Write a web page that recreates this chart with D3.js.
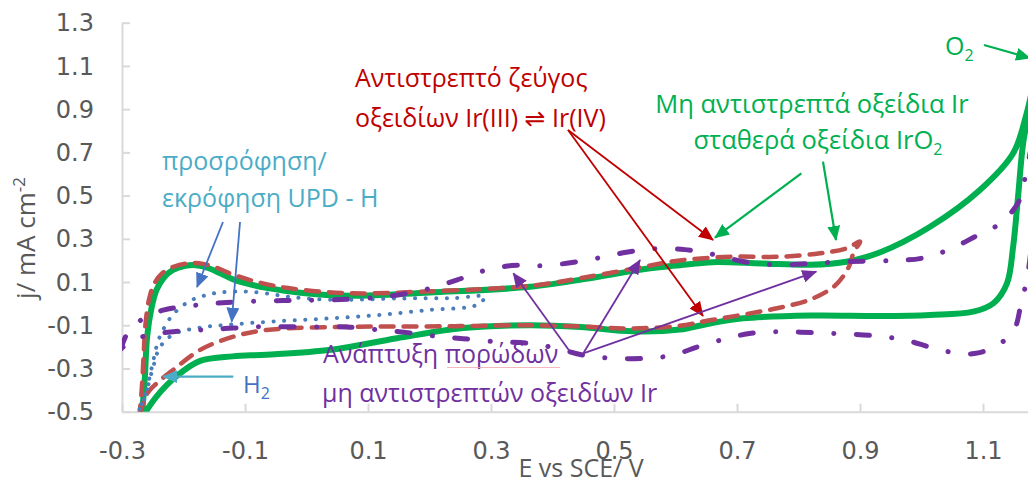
<!DOCTYPE html>
<html><head><meta charset="utf-8">
<script src="https://cdn.jsdelivr.net/npm/d3@7"></script>
<style>
html,body{margin:0;padding:0;background:#fff;}
svg{display:block;}
</style></head><body>
<svg id="c" width="1028" height="477"></svg>
<script>
// ---------- data ----------
const yTicks = [-0.5,-0.3,-0.1,0.1,0.3,0.5,0.7,0.9,1.1,1.3];
const xTicks = [-0.3,-0.1,0.1,0.3,0.5,0.7,0.9,1.1];

// IrO2 stable oxide film (green, solid)
const greenLoop = [
 [-0.268,-0.53],[-0.263,-0.35],[-0.259,-0.15],[-0.252,-0.02],[-0.244,0.063],[-0.232,0.12],
 [-0.217,0.156],[-0.197,0.175],[-0.18,0.178],[-0.16,0.165],[-0.14,0.14],[-0.119,0.112],
 [-0.09,0.088],[-0.065,0.073],[-0.01,0.05],[0.07,0.036],[0.2,0.052],[0.363,0.078],
 [0.47,0.122],[0.55,0.16],[0.607,0.178],[0.66,0.192],[0.74,0.186],[0.82,0.18],
 [0.878,0.194],[0.933,0.238],[1.014,0.356],[1.095,0.526],[1.149,0.696],[1.171,0.881],
 [1.19,1.12],[1.178,0.92],[1.166,0.757],[1.157,0.495],[1.149,0.264],[1.139,0.094],
 [1.117,0.002],[1.084,-0.037],[1.014,-0.052],[0.933,-0.057],[0.82,-0.055],[0.71,-0.068],
 [0.65,-0.095],[0.607,-0.12],[0.53,-0.128],[0.445,-0.108],[0.363,-0.1],[0.255,-0.113],
 [0.147,-0.16],[0.04,-0.213],[-0.065,-0.236],[-0.12,-0.244],[-0.173,-0.265],
 [-0.211,-0.335],[-0.244,-0.43],[-0.268,-0.53]
];
// reversible Ir(III)/Ir(IV) (red, dashed)
const redLoop = [
 [-0.272,-0.53],[-0.268,-0.4],[-0.265,-0.25],[-0.262,-0.1],[-0.256,0.02],[-0.248,0.09],
 [-0.235,0.14],[-0.215,0.172],[-0.195,0.186],[-0.175,0.187],[-0.15,0.17],[-0.12,0.135],
 [-0.08,0.1],[-0.03,0.072],[0.07,0.048],[0.2,0.057],[0.363,0.082],[0.47,0.13],
 [0.55,0.172],[0.607,0.2],[0.69,0.217],[0.77,0.217],[0.835,0.233],[0.878,0.256],
 [0.9,0.287],[0.89,0.24],[0.882,0.171],[0.86,0.085],[0.82,0.02],[0.767,-0.02],
 [0.712,-0.05],[0.658,-0.076],[0.604,-0.103],[0.52,-0.115],[0.44,-0.105],[0.36,-0.1],
 [0.25,-0.104],[0.15,-0.106],[0.07,-0.107],[-0.065,-0.122],[-0.119,-0.153],
 [-0.173,-0.214],[-0.217,-0.307],[-0.244,-0.37],[-0.26,-0.42],[-0.272,-0.53]
];
// UPD-H region (blue, dotted)
const blueLoop = [
 [-0.28,-0.53],[-0.265,-0.45],[-0.252,-0.3],[-0.242,-0.18],[-0.233,-0.12],[-0.217,-0.05],
 [-0.19,0.012],[-0.165,0.038],[-0.14,0.052],[-0.1,0.056],[-0.06,0.045],[-0.03,0.032],
 [0.04,0.018],[0.15,0.024],[0.24,0.026],[0.29,0.032],[0.277,-0.006],[0.2,-0.029],
 [0.12,-0.052],[0.04,-0.068],[-0.04,-0.08],[-0.12,-0.096],[-0.175,-0.112],[-0.215,-0.14],
 [-0.238,-0.2],[-0.25,-0.3],[-0.262,-0.42],[-0.28,-0.53]
];
// porous irreversible oxides (purple, dash-dot)
const purpleLoop = [
 [-0.302,-0.21],[-0.292,-0.14],[-0.28,-0.1],[-0.26,-0.06],[-0.233,-0.03],[-0.2,-0.014],
 [-0.162,-0.002],[-0.108,0.009],[-0.038,0.014],[0.038,0.017],[0.12,0.03],[0.19,0.063],
 [0.244,0.109],[0.288,0.152],[0.334,0.176],[0.39,0.176],[0.472,0.21],[0.52,0.238],
 [0.564,0.254],[0.615,0.25],[0.658,0.23],[0.712,0.194],[0.767,0.179],[0.821,0.186],
 [0.875,0.194],[0.951,0.199],[1.0,0.21],[1.043,0.248],[1.087,0.31],[1.127,0.37],
 [1.158,0.472],[1.171,0.62],[1.19,0.85],[1.195,0.82],[1.183,0.4],[1.173,0.14],
 [1.162,0.0],[1.149,-0.13],[1.119,-0.199],[1.092,-0.228],[1.065,-0.232],[1.021,-0.207],
 [0.973,-0.168],[0.929,-0.15],[0.875,-0.14],[0.821,-0.134],[0.767,-0.13],[0.723,-0.137],
 [0.685,-0.16],[0.637,-0.199],[0.596,-0.238],[0.553,-0.253],[0.499,-0.253],[0.45,-0.238],
 [0.407,-0.207],[0.363,-0.184],[0.309,-0.176],[0.255,-0.162],[0.217,-0.153],[0.174,-0.137],
 [0.12,-0.122],[0.065,-0.108],[0.02,-0.108],[-0.076,-0.107],[-0.119,-0.113],[-0.162,-0.12],
 [-0.217,-0.13],[-0.255,-0.145],[-0.282,-0.168],[-0.302,-0.21]
];

// annotation arrows in data units: [E0, j0, E1, j1]
const redArrows = [[0.4252,0.8036,0.661,0.2945],[0.4252,0.8036,0.6447,-0.0571]];
const greenArrows = [[0.8046,0.6032,0.6642,0.3052],[0.8398,0.6569,0.861,0.2945],[1.1016,1.1969,1.1764,1.136]];
const blueArrows = [[-0.1358,0.3778,-0.178,0.077],[-0.1081,0.3778,-0.1216,-0.0835]];
const cyanArrows = [[-0.119,-0.338,-0.2328,-0.338]];
const purpleArrows = [[0.4285,-0.2223,0.3363,0.1404],[0.4501,-0.2298,0.5423,0.202],[0.4501,-0.2298,0.8289,0.148]];

// ---------- chart ----------
const svg = d3.select("#c");
const x = d3.scaleLinear().domain([-0.3,1.2]).range([122,1044.5]);
const y = d3.scaleLinear().domain([-0.5,1.3]).range([411.7,22.7]);

const axisColor = "#D9D9D9", labelColor = "#595959";
const fmt = d => d3.format(".1f")(d).replace("\u2212","-");

// axes
const gy = svg.append("g").attr("transform",`translate(${x(-0.3)},0)`)
  .call(d3.axisLeft(y).tickValues(yTicks).tickSize(-8).tickSizeOuter(0).tickPadding(28).tickFormat(fmt));
const gx = svg.append("g").attr("transform",`translate(0,${y(-0.5)})`)
  .call(d3.axisBottom(x).tickValues(xTicks).tickSize(-8).tickSizeOuter(0).tickPadding(47).tickFormat(fmt));
[gy,gx].forEach(g=>{
  g.attr("font-family","DejaVu Sans, sans-serif").attr("font-size",24);
  g.select(".domain").attr("stroke",axisColor).attr("stroke-width",2);
  g.selectAll(".tick line").attr("stroke",axisColor).attr("stroke-width",2);
  g.selectAll(".tick text").attr("fill",labelColor).style("font-family","'DejaVu Sans', sans-serif").style("font-size","24px");
});
gy.selectAll(".tick text").attr("dy","0.34em");
gx.selectAll(".tick text").attr("dy","0");

// clip
svg.append("clipPath").attr("id","clip").append("rect")
  .attr("x",x(-0.3)).attr("y",y(1.3)).attr("width",x(1.2)-x(-0.3)).attr("height",y(-0.5)-y(1.3));

const line = d3.line().x(d=>x(d[0])).y(d=>y(d[1])).curve(d3.curveCatmullRom.alpha(0.5));
const plot = svg.append("g").attr("clip-path","url(#clip)");

plot.append("path").datum(greenLoop).attr("d",line).attr("fill","none")
  .attr("stroke","#00B050").attr("stroke-width",6).attr("stroke-linejoin","round");
plot.append("path").datum(redLoop).attr("d",line).attr("fill","none")
  .attr("stroke","#C0504D").attr("stroke-width",4.5).attr("stroke-linecap","round")
  .attr("stroke-dasharray","13,10");
plot.append("path").datum(blueLoop).attr("d",line).attr("fill","none")
  .attr("stroke","#4A7EBB").attr("stroke-width",4).attr("stroke-linecap","round")
  .attr("stroke-dasharray","0.1,10.5");
plot.append("path").datum(purpleLoop).attr("d",line).attr("fill","none")
  .attr("stroke","#7030A0").attr("stroke-width",5).attr("stroke-linecap","round")
  .attr("stroke-dasharray","13,22.5,0.1,22.5");

// arrow markers
const defs = svg.append("defs");
function marker(id,color){
  defs.append("marker").attr("id",id).attr("markerUnits","userSpaceOnUse")
    .attr("markerWidth",15).attr("markerHeight",13).attr("refX",14).attr("refY",6.5)
    .attr("orient","auto").append("path").attr("d","M0,0 L15,6.5 L0,13 Z").attr("fill",color);
}
const arrowSets = [
  [redArrows,"#C00000","mR",1.8],
  [greenArrows,"#00B050","mG",2.2],
  [blueArrows,"#4472C4","mB",1.8],
  [cyanArrows,"#4BACC6","mC",2.2],
  [purpleArrows,"#7030A0","mP",1.8]
];
const ann = svg.append("g");
arrowSets.forEach(([arr,color,id,w])=>{
  marker(id,color);
  ann.selectAll(null).data(arr).join("line")
    .attr("x1",d=>x(d[0])).attr("y1",d=>y(d[1]))
    .attr("x2",d=>x(d[2])).attr("y2",d=>y(d[3]))
    .attr("stroke",color).attr("stroke-width",w).attr("marker-end",`url(#${id})`);
});

// annotation texts
const F = "'Open Sans', 'Noto Sans', 'DejaVu Sans', sans-serif";
function txt(s,px,py,color,size,anchor){
  return svg.append("text").attr("x",px).attr("y",py).attr("fill",color)
    .attr("font-family",F).attr("font-size",size).attr("text-anchor",anchor||"start").text(s);
}
txt("προσρόφηση/",162,170,"#4BACC6",25);
txt("εκρόφηση UPD - H",162,206.5,"#4BACC6",25);

txt("Αντιστρεπτό ζεύγος",355,87,"#C00000",25);
txt("οξειδίων Ir(III) \u21CC Ir(IV)",355,126.5,"#C00000",25);

txt("Μη αντιστρεπτά οξείδια Ir",812,113,"#00B050",25.5,"middle");
const g2 = txt("σταθερά οξείδια IrO",818,148.5,"#00B050",25.5,"middle");
g2.append("tspan").attr("font-size",16).attr("dy",6).text("2");

const o2 = txt("O",945,55,"#00B050",25);
o2.append("tspan").attr("font-size",16).attr("dy",6).text("2");

const h2 = txt("H",243,393,"#4472C4",24);
h2.append("tspan").attr("font-size",16).attr("dy",6).text("2");

txt("Ανάπτυξη πορώδων",323,363,"#7030A0",25);
txt("μη αντιστρεπτών οξειδίων Ir",322,401.5,"#7030A0",25);
svg.append("line").attr("x1",447).attr("x2",560).attr("y1",367.5).attr("y2",367.5)
  .attr("stroke","#F2A7B0").attr("stroke-width",1).attr("opacity",0.8);

// axis titles
svg.append("text").attr("x",581).attr("y",477).attr("text-anchor","middle")
  .attr("fill",labelColor).attr("font-family",F).attr("font-size",25).text("E vs SCE/ V");
const yt = svg.append("text").attr("transform","translate(35,238) rotate(-90)")
  .attr("text-anchor","middle").attr("fill",labelColor).attr("font-family",F).attr("font-size",26)
  .text("j/ mA cm");
yt.append("tspan").attr("font-size",17).attr("dy",-10).text("-2");
</script>
</body></html>
